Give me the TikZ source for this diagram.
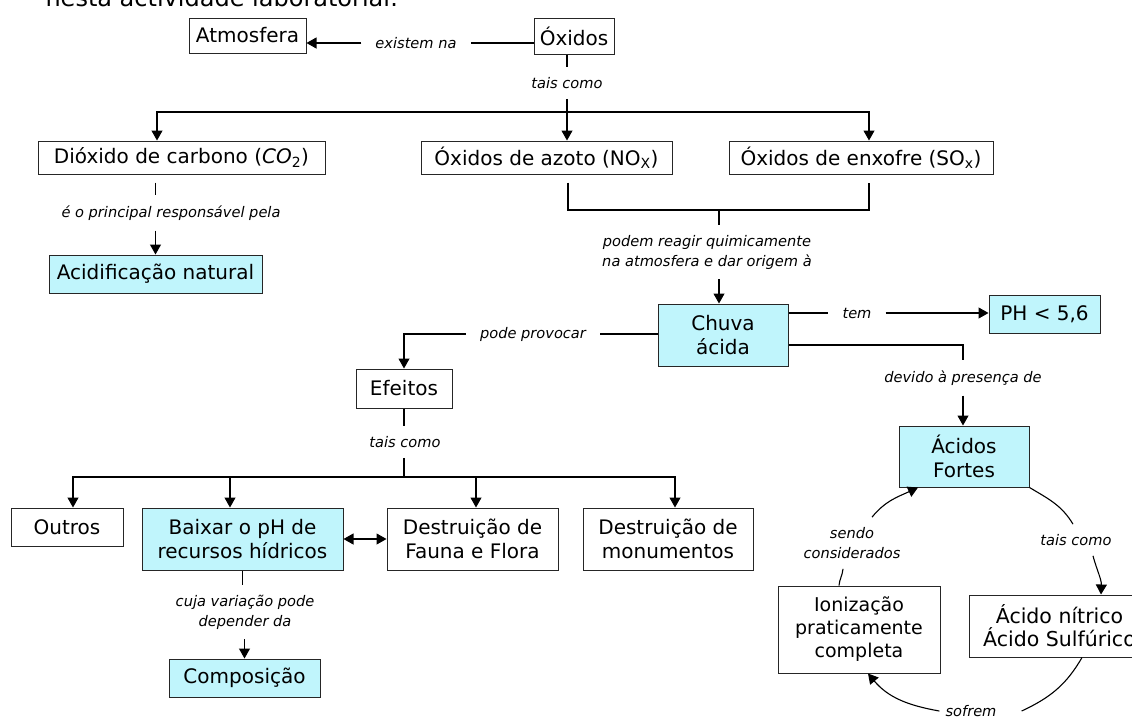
\documentclass[tikz,border=0pt]{standalone}
\usepackage{fontspec}
\setmainfont{DejaVu Sans}
\usetikzlibrary{arrows.meta,positioning}
\definecolor{ciano}{HTML}{C0F5FC}
\begin{document}
\begin{tikzpicture}[x=1pt,y=-1pt,
  caixa/.style={draw=black!85,line width=1pt,inner sep=0pt,align=center,font=\fontsize{20}{24}\selectfont},
  azul/.style={caixa,fill=ciano},
  rotulo/.style={inner xsep=14pt,inner ysep=10pt,align=center,font=\fontsize{14.6}{20}\selectfont\itshape},
  liga/.style={line width=1.1pt},
  seta/.style={liga,-{Triangle[length=10pt,width=11pt]}}]
\useasboundingbox (0,0) rectangle (1132,718);
\clip (0,0) rectangle (1132,718);
\node[anchor=base west,font=\fontsize{24}{28}\selectfont] (titulo) at (42,6) {nesta actividade laboratorial:};
\node[caixa,minimum width=117pt,minimum height=35pt] (atmosfera) at (247.5,35.5) {Atmosfera};
\node[caixa,minimum width=80pt,minimum height=36pt] (oxidos) at (574,36) {Óxidos};
\node[caixa,minimum width=287pt,minimum height=33pt] (dioxido) at (181.5,157.5) {Dióxido de carbono ({\itshape CO}\textsubscript{2})};
\node[caixa,minimum width=251pt,minimum height=33pt] (azoto) at (546.5,157.5) {Óxidos de azoto (NO\textsubscript{X})};
\node[caixa,minimum width=264pt,minimum height=33pt] (enxofre) at (861,157.5) {Óxidos de enxofre (SO\textsubscript{x})};
\node[azul,minimum width=213pt,minimum height=38pt] (acidnat) at (155.5,274) {Acidificação natural};
\node[azul,minimum width=130pt,minimum height=62pt] (chuva) at (723,335) {Chuva\\ácida};
\node[azul,minimum width=111pt,minimum height=38pt] (ph) at (1044.5,314) {PH < 5,6};
\node[azul,minimum width=130pt,minimum height=61pt] (acidos) at (964,456.5) {Ácidos\\Fortes};
\node[caixa,minimum width=96pt,minimum height=39pt] (efeitos) at (404,388.5) {Efeitos};
\node[caixa,minimum width=112pt,minimum height=38pt] (outros) at (67,527) {Outros};
\node[azul,minimum width=201pt,minimum height=62pt] (baixar) at (242.5,539) {Baixar o pH de\\recursos hídricos};
\node[caixa,minimum width=171pt,minimum height=62pt] (fauna) at (472.5,539) {Destruição de\\Fauna e Flora};
\node[caixa,minimum width=170pt,minimum height=62pt] (monumentos) at (668,539) {Destruição de\\monumentos};
\node[azul,minimum width=151pt,minimum height=38pt] (composicao) at (244.5,678) {Composição};
\node[caixa,minimum width=162pt,minimum height=87pt,font=\fontsize{19}{23}\selectfont] (ionizacao) at (859,629.5) {Ionização\\praticamente\\completa};
\node[caixa,minimum width=181pt,minimum height=62pt,font=\fontsize{20.5}{23}\selectfont] (acidonit) at (1059.5,626) {Ácido nítrico\\Ácido Sulfúrico};
\node[rotulo] (existem) at (416,43) {existem na};
\node[rotulo] (taiscomo) at (567,83) {tais como};
\node[rotulo] (principal) at (171,213) {é o principal responsável pela};
\node[rotulo] (podem) at (707,252) {podem reagir quimicamente\\na atmosfera e dar origem à};
\node[rotulo] (tem) at (857,313) {tem};
\node[rotulo] (provocar) at (533,334) {pode provocar};
\node[rotulo] (devido) at (963,378) {devido à presença de};
\node[rotulo] (taiscomoef) at (405,442) {tais como};
\node[rotulo] (cuja) at (245,612) {cuja variação pode\\depender da};
\node[rotulo] (taiscomoac) at (1076,540) {tais como};
\node[rotulo] (sendo) at (852,543) {sendo\\considerados};
\node[rotulo] (sofrem) at (971,711) {sofrem};
\coordinate (ramo) at (567,112);
\coordinate (juncao) at (719,210);
\coordinate (ramoef) at (404,477);
\draw[liga] (oxidos.west |- existem) -- (existem);
\draw[seta] (existem) -- (existem -| atmosfera.east);
\draw[liga] (taiscomo |- oxidos.south) -- (taiscomo);
\draw[seta] (taiscomo) -- (taiscomo |- azoto.north);
\draw[seta] (ramo) -| ([xshift=-24.5pt]dioxido.north);
\draw[seta] (ramo) -| ([xshift=8pt]enxofre.north);
\draw[liga,shorten <=8pt] (acidnat.north |- dioxido.south) -- (acidnat.north |- principal.north);
\draw[seta] (acidnat.north |- principal.south) -- (acidnat.north);
\draw[liga] ([xshift=21.5pt,yshift=-8pt]azoto.south) |- (juncao) -| ([xshift=8pt,yshift=-8pt]enxofre.south);
\draw[liga] (juncao) -- (juncao |- podem.north);
\draw[seta] (juncao |- podem.south) -- (juncao |- chuva.north);
\draw[liga] (chuva.east |- tem) -- (tem);
\draw[seta] (tem) -- (tem -| ph.west);
\draw[liga] (chuva.west |- provocar) -- (provocar);
\draw[seta] (provocar) -| (efeitos.north);
\draw[liga] ([yshift=-10pt]chuva.east) -| (devido.north);
\draw[seta] (devido.south) -- (devido.south |- acidos.north);
\draw[liga] (efeitos.south) -- (efeitos.south |- taiscomoef.north);
\draw[liga] (efeitos.south |- taiscomoef.south) -- (ramoef);
\draw[seta] (ramoef) -| ([xshift=6pt]outros.north);
\draw[seta] (ramoef) -| ([xshift=-12.5pt]baixar.north);
\draw[seta] (ramoef) -| ([xshift=3.5pt]fauna.north);
\draw[seta] (ramoef) -| ([xshift=7pt]monumentos.north);
\draw[liga,{Triangle[length=10pt,width=11pt]}-{Triangle[length=10pt,width=11pt]}] (baixar) -- (fauna);
\draw[liga] (baixar.south) -- (baixar.south |- cuja.north);
\draw[seta] (composicao.north |- cuja.south) -- (composicao.north);
\draw[liga] (acidos.south east) to[out=-31,in=121] ([xshift=-3pt]taiscomoac.north);
\draw[seta] ([xshift=17pt]taiscomoac.south) to[out=-75,in=88] ([xshift=41.5pt]acidonit.north);
\draw[liga] ([xshift=22.5pt]acidonit.south) to[out=-120,in=25] ([xshift=11pt]sofrem.east);
\draw[seta] ([xshift=8pt]sofrem.west) to[out=170,in=-50] ([xshift=9pt]ionizacao.south);
\draw[liga] ([xshift=-20pt]ionizacao.north) to[out=85,in=-95] ([xshift=-9pt]sendo.south);
\draw[seta] ([xshift=20pt]sendo.north) to[out=51,in=-155] ([xshift=-46pt]acidos.south);
\end{tikzpicture}
\end{document}
